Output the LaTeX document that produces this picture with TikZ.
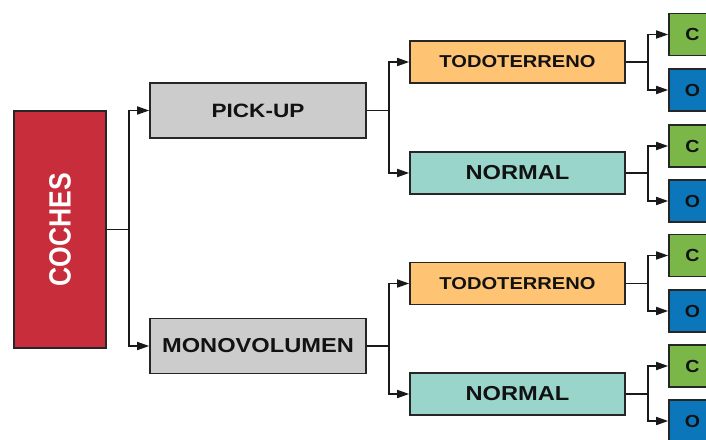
\documentclass[tikz,border=0pt]{standalone}
\usepackage{fontspec}
\setmainfont{Liberation Sans}
\usetikzlibrary{arrows.meta}

\definecolor{cochesred}{HTML}{C82D3B}
\definecolor{boxgray}{HTML}{CCCCCC}
\definecolor{boxorange}{HTML}{FFC374}
\definecolor{boxteal}{HTML}{9AD5CB}
\definecolor{leafgreen}{HTML}{7AB648}
\definecolor{leafblue}{HTML}{0C76BA}
\definecolor{edgedark}{HTML}{262626}

% widened bold label: #1 = font size (pt), #2 = horizontal stretch, #3 = text
\newcommand\widelabel[3]{\scalebox{#2}[1]{\fontsize{#1}{#1}\selectfont\bfseries #3}}

\begin{document}
\begin{tikzpicture}[x=1pt,y=-1pt,
  boxbase/.style={draw=edgedark, line width=1.6pt, rectangle, inner sep=0pt, text=black!93},
  rootbox/.style={boxbase, fill=cochesred, text=white, minimum width=92pt, minimum height=237pt},
  midbox/.style={boxbase, fill=boxgray, minimum width=216pt, minimum height=55pt},
  offbox/.style={boxbase, fill=boxorange, minimum width=215pt, minimum height=42pt},
  normbox/.style={boxbase, fill=boxteal, minimum width=215pt, minimum height=42pt},
  cbox/.style={boxbase, fill=leafgreen, minimum width=47pt, minimum height=42pt},
  obox/.style={boxbase, fill=leafblue, minimum width=47pt, minimum height=42pt},
  link/.style={draw=black!90, line width=1.6pt, -{Triangle[length=12pt,width=8pt]}},
]
\useasboundingbox (0,0) rectangle (706,439);
\clip (0,0) rectangle (706,439);

% root
\node[rootbox] (coches) at (60,229.5)
  {\scalebox{1.16}[1]{\rotatebox{90}{\fontsize{26.5}{26.5}\selectfont\bfseries COCHES}}};

% second level
\node[midbox] (pickup) at (258,110.5) {\widelabel{19.3}{1.17}{PICK-UP}};
\node[midbox] (mono)   at (258,346)   {\widelabel{20.2}{1.17}{MONOVOLUMEN}};

% third level
\node[offbox]  (todoA) at (517.5,62)    {\widelabel{17.2}{1.17}{TODOTERRENO}};
\node[normbox] (normA) at (517.5,173)   {\widelabel{20.2}{1.17}{NORMAL}};
\node[offbox]  (todoB) at (517.5,283.5) {\widelabel{17.2}{1.17}{TODOTERRENO}};
\node[normbox] (normB) at (517.5,394)   {\widelabel{20.2}{1.17}{NORMAL}};

% leaves
\node[cbox] (c1) at (692.5,34.5)  {\widelabel{17.5}{1.12}{C}};
\node[obox] (o1) at (692.5,90)    {\widelabel{17.5}{1.12}{O}};
\node[cbox] (c2) at (692.5,146)   {\widelabel{17.5}{1.12}{C}};
\node[obox] (o2) at (692.5,201)   {\widelabel{17.5}{1.12}{O}};
\node[cbox] (c3) at (692.5,255.5) {\widelabel{17.5}{1.12}{C}};
\node[obox] (o3) at (692.5,311)   {\widelabel{17.5}{1.12}{O}};
\node[cbox] (c4) at (692.5,366)   {\widelabel{17.5}{1.12}{C}};
\node[obox] (o4) at (692.5,421)   {\widelabel{17.5}{1.12}{O}};

% elbow connectors
\foreach \p/\c in {coches/pickup, coches/mono,
                   pickup/todoA, pickup/normA, mono/todoB, mono/normB,
                   todoA/c1, todoA/o1, normA/c2, normA/o2,
                   todoB/c3, todoB/o3, normB/c4, normB/o4}
  \draw[link] (\p.east) -- ++(22,0) |- (\c.west);
\end{tikzpicture}
\end{document}
